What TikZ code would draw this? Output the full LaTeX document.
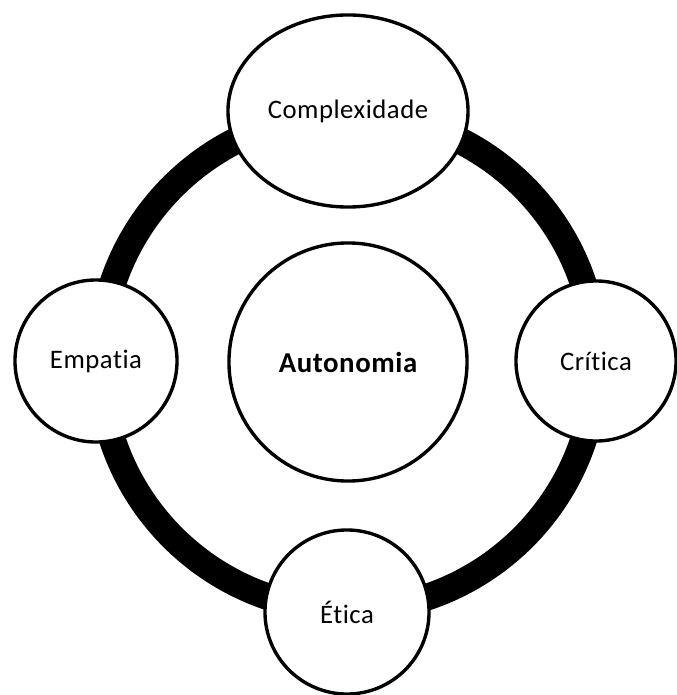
\documentclass[tikz,border=0pt]{standalone}
\usepackage{fontspec}
\setmainfont{Carlito}[Ligatures=NoCommon, LetterSpace=2]
\usepackage{tikz}
\usetikzlibrary{shapes.geometric}

\tikzset{
  bubble/.style={draw=black, fill=white, line width=2.4pt, circle, inner sep=0pt,
                 font=\fontsize{19}{22}\selectfont},
  oval/.style={draw=black, fill=white, line width=2.4pt, ellipse, inner sep=0pt,
               font=\fontsize{19}{22}\selectfont}
}

\begin{document}
\begin{tikzpicture}[x=0.025cm, y=-0.025cm]
  \useasboundingbox (0,0) rectangle (676,695);

  % thick ring behind the nodes
  \draw[line width=19pt, black] (348,362) circle[radius=248];

  % centre
  \node[bubble, minimum size=5.95cm, font=\fontsize{20.5}{22}\selectfont\bfseries]
       (autonomia) at (348,362) {Autonomia};

  % nodes on the ring
  \node[oval, minimum width=6.0cm, minimum height=4.8cm] (complexidade) at (348,111) {Complexidade};
  \node[bubble, minimum size=4.05cm] (empatia) at (96,361)  {Empatia};
  \node[bubble, minimum size=4.0cm]  (critica) at (596,361) {Crítica};
  \node[bubble, minimum size=4.1cm]  (etica)   at (347,612) {Ética};
\end{tikzpicture}
\end{document}
